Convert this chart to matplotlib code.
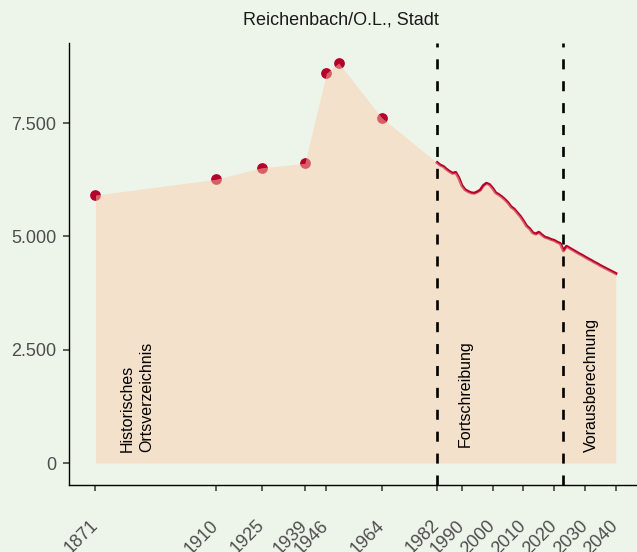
import matplotlib
matplotlib.use("Agg")
import matplotlib.pyplot as plt
from matplotlib.ticker import FuncFormatter

# ── data ────────────────────────────────────────────────────────────────
hist_years = [1871, 1910, 1925, 1939, 1946, 1950, 1964]
hist_pop = [5912, 6258, 6514, 6611, 8597, 8824, 7617]

fort_years = list(range(1982, 2023))
fort_pop = [6625, 6570, 6540, 6480, 6430, 6390, 6410, 6290, 6120, 6030,
            5990, 5960, 5950, 5980, 6020, 6120, 6170, 6140, 6060, 5960,
            5920, 5870, 5810, 5740, 5650, 5600, 5520, 5440, 5340, 5230,
            5170, 5080, 5050, 5090, 5030, 4980, 4960, 4930, 4910, 4870,
            4840]

proj_years = list(range(2023, 2041))
proj_pop = [4680, 4780, 4740, 4700, 4660, 4620, 4585, 4545, 4505, 4470,
            4430, 4395, 4355, 4320, 4285, 4250, 4215, 4180]

tick_years = [1871, 1910, 1925, 1939, 1946, 1964, 1982, 1990, 2000,
              2010, 2020, 2030, 2040]
y_ticks = [0, 2500, 5000, 7500]
breaks = [1982, 2023]
title = "Reichenbach/O.L., Stadt"

# ── style ───────────────────────────────────────────────────────────────
BG = "#EDF5EA"
RED = "#B5002B"
FILL = "#FECBA9"

plt.rcParams.update({
    "font.family": ["Liberation Sans", "DejaVu Sans"],
    "font.size": 13,
})

fig = plt.figure(figsize=(6.37, 5.52), dpi=100, facecolor=BG)
ax = fig.add_axes([69 / 637, 1 - 485 / 552, 1 - 69 / 637, 442 / 552])
ax.set_facecolor(BG)

all_years = hist_years + fort_years + proj_years
all_pop = hist_pop + fort_pop + proj_pop

ax.scatter(hist_years, hist_pop, s=60, color=RED, zorder=2, linewidths=0)
ax.plot(fort_years + proj_years, fort_pop + proj_pop, color=RED, lw=2.2,
        zorder=2, solid_joinstyle="round")
ax.fill_between(all_years, 0, all_pop, color=FILL, alpha=0.47, lw=0, zorder=3)

for b in breaks:
    ax.axvline(b, color="black", lw=1.9, linestyle=(0, (3.8, 4.5)), zorder=4)

ax.text(1884.4, 250, "Historisches\nOrtsverzeichnis", rotation=90,
        ha="center", va="bottom", multialignment="left", fontsize=11.5,
        color="black", linespacing=1.35, zorder=5)
ax.text(1991.0, 350, "Fortschreibung", rotation=90, ha="center",
        va="bottom", fontsize=11.5, color="black", zorder=5)
ax.text(2032.2, 250, "Vorausberechnung", rotation=90, ha="center",
        va="bottom", fontsize=11.5, color="black", zorder=5)

ax.set_xlim(1862.4, 2046.9)
ax.set_ylim(-485, 9265)
ax.set_xticks(tick_years)
ax.set_yticks(y_ticks)
ax.yaxis.set_major_formatter(
    FuncFormatter(lambda v, p: f"{int(v):,}".replace(",", ".")))

for lbl in ax.get_xticklabels():
    lbl.set_rotation(45)
    lbl.set_rotation_mode("anchor")
    lbl.set_ha("right")
    lbl.set_va("center")

ax.tick_params(axis="x", length=4.3, width=1.1, color="#333333",
               labelcolor="#4D4D4D", pad=23)
ax.tick_params(axis="y", length=4.3, width=1.1, color="#333333",
               labelcolor="#4D4D4D", pad=5)

for s in ["top", "right"]:
    ax.spines[s].set_visible(False)
for s in ["left", "bottom"]:
    ax.spines[s].set_color("black")
    ax.spines[s].set_linewidth(1.0)

fig.text(340.5 / 637, 1 - 20 / 552, title, ha="center", va="center",
         fontsize=13, color="#1A1A1A")

fig.savefig("out.png", dpi=100, facecolor=BG)
